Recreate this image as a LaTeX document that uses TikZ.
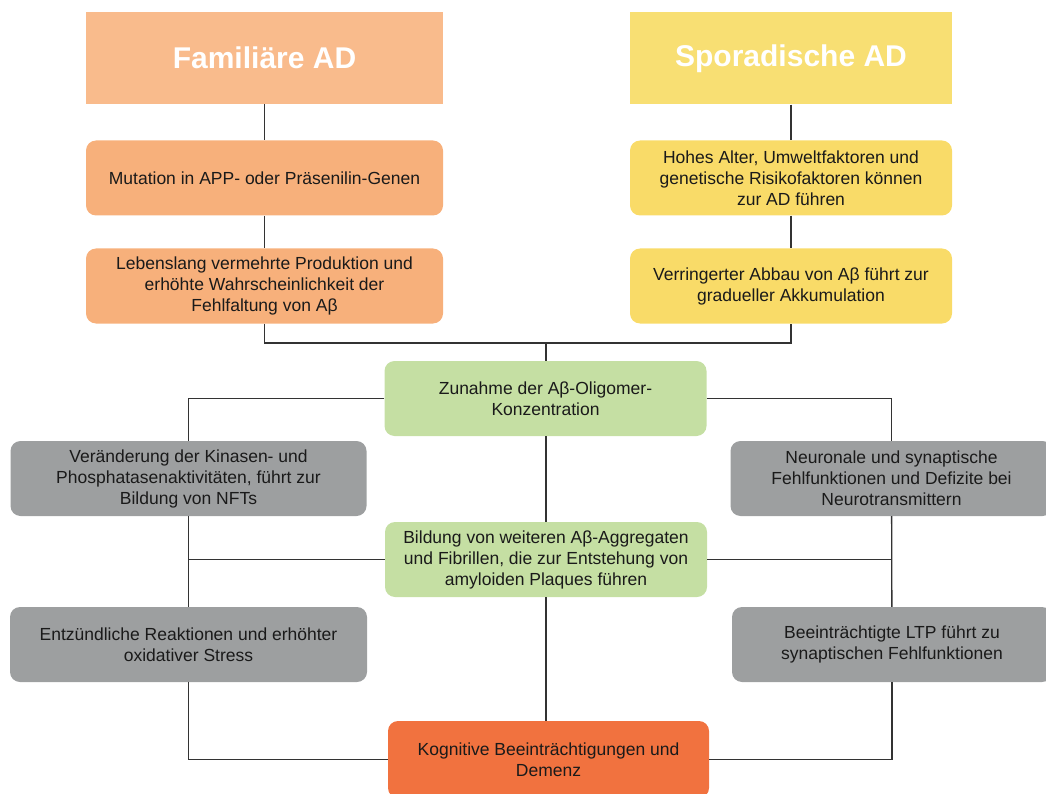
\documentclass[tikz,border=0pt]{standalone}
\usepackage{fontspec}
\setmainfont{Liberation Sans}
\definecolor{famfill}{HTML}{F9BB8C}
\definecolor{orfill}{HTML}{F7B07B}
\definecolor{sporfill}{HTML}{F8DF73}
\definecolor{yefill}{HTML}{F9DB68}
\definecolor{grfill}{HTML}{C5DFA3}
\definecolor{gyfill}{HTML}{9D9FA0}
\definecolor{kogfill}{HTML}{F1723F}
\definecolor{txt}{HTML}{1A1A1A}
\definecolor{ln}{HTML}{333333}
\begin{document}
\begin{tikzpicture}[x=1pt, y=1pt]
	\tikzset{head/.style={minimum height=92pt, inner sep=0pt, text=white,
			font=\fontsize{30}{34}\selectfont\bfseries},
		box/.style={rounded corners=10pt, minimum height=75pt, inner sep=2pt,
			align=center, text=txt, font=\fontsize{17.5}{21}\selectfont},
		l/.style={draw=ln, line width=1.3pt}};

	\useasboundingbox (0,0) rectangle (1046,-794);

	\node[head, fill=famfill, minimum width=357pt] (fam) at (264.5,-58) {Familiäre AD};
	\node[head, fill=sporfill, minimum width=322pt] (spor) at (791,-58.5) {Sporadische AD};

	\node[box, fill=orfill, minimum width=357pt] (mut) at (264.5,-178) {Mutation in APP- oder Präsenilin-Genen};
	\node[box, fill=orfill, minimum width=357pt] (leb) at (264.5,-286) {Lebenslang vermehrte Produktion und\\erhöhte Wahrscheinlichkeit der\\Fehlfaltung von Aβ};
	\node[box, fill=yefill, minimum width=322pt] (hoh) at (791,-178) {Hohes Alter, Umweltfaktoren und\\genetische Risikofaktoren können\\zur AD führen};
	\node[box, fill=yefill, minimum width=322pt] (verr) at (791,-286) {Verringerter Abbau von Aβ führt zur\\gradueller Akkumulation};

	\node[box, fill=grfill, minimum width=322pt] (zun) at (545.5,-398.5) {Zunahme der Aβ-Oligomer-\\Konzentration};
	\node[box, fill=gyfill, minimum width=356pt] (kin) at (188.5,-478.5) {Veränderung der Kinasen- und\\Phosphatasenaktivitäten, führt zur\\Bildung von NFTs};
	\node[box, fill=gyfill, minimum width=322pt] (neur) at (891.5,-478.5) {Neuronale und synaptische\\Fehlfunktionen und Defizite bei\\Neurotransmittern};
	\node[box, fill=grfill, minimum width=322pt] (bild) at (546,-559.5) {Bildung von weiteren Aβ-Aggregaten\\und Fibrillen, die zur Entstehung von\\amyloiden Plaques führen};
	\node[box, fill=gyfill, minimum width=357pt] (entz) at (188.5,-644.5) {Entzündliche Reaktionen und erhöhter\\oxidativer Stress};
	\node[box, fill=gyfill, minimum width=320pt] (ltp) at (892,-644.5) {Beeinträchtigte LTP führt zu\\synaptischen Fehlfunktionen};
	\node[box, fill=kogfill, minimum width=321pt, minimum height=77pt] (kog) at (548.5,-759.5) {Kognitive Beeinträchtigungen und\\Demenz};

	\coordinate (j) at (546,-343);

	\draw[l] (fam) -- (mut);
	\draw[l] (mut) -- (leb);
	\draw[l] (spor) -- (hoh);
	\draw[l] (hoh) -- (verr);
	\draw[l] (leb.south) |- (j) -| (verr.south);
	\draw[l] (j) -- (j |- zun.north);
	\draw[l] (zun.west) -| (kin.north);
	\draw[l] (zun.east) -| (neur.north);
	\draw[l] (zun.south -| bild.north) -- (bild.north);
	\draw[l] (kin) -- (entz);
	\draw[l] (neur) -- (ltp);
	\draw[l] (bild.west) -- (bild.west -| kin.south);
	\draw[l] (bild.east) -- (bild.east -| neur.south);
	\draw[l] (bild.south) -- (bild.south |- kog.north);
	\draw[l] (entz.south) |- (kog.west);
	\draw[l] (ltp.south) |- (kog.east);
\end{tikzpicture}
\end{document}
